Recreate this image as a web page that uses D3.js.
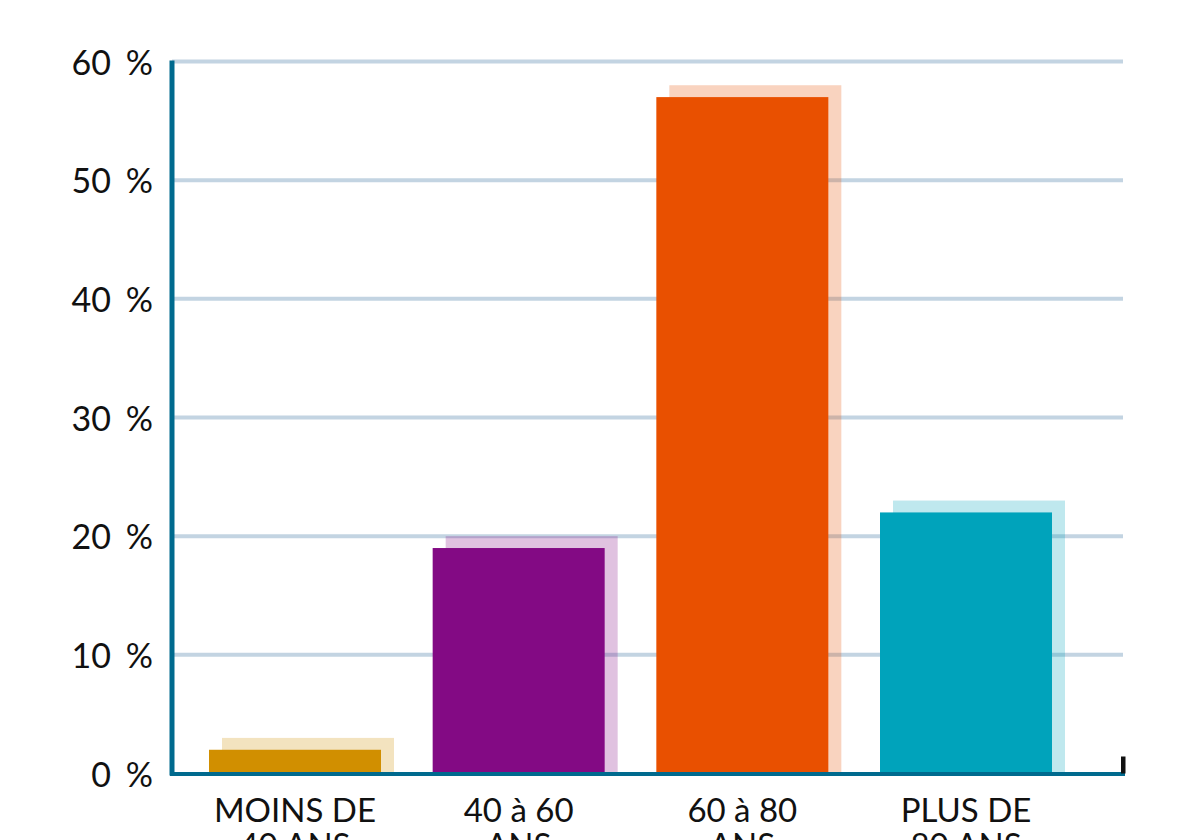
<!DOCTYPE html>
<html><head><meta charset="utf-8">
<script src="https://cdn.jsdelivr.net/npm/d3@7"></script>
<style>body{margin:0;background:#fff}svg{display:block}</style>
</head><body>
<svg id="c" width="1191" height="840"></svg>
<script>
const categories = [["MOINS DE","40 ANS"],["40 à 60","ANS"],["60 à 80","ANS"],["PLUS DE","80 ANS"]];
const frontValues = [2, 19, 57, 22];
const backValues = [3, 20, 58, 23];
const colors = ["#D18F00","#830A84","#E95000","#00A3BB"];
const yTicks = [0,10,20,30,40,50,60];
const yTickLabels = ["0 %","10 %","20 %","30 %","40 %","50 %","60 %"];

const svg = d3.select("#c");
const font = "Lato, 'Noto Sans', sans-serif";
const y = d3.scaleLinear().domain([0,60]).range([773.5,61.5]);
const x = d3.scaleBand().domain(d3.range(categories.length)).range([172,1089]).paddingInner(0.231).paddingOuter(0.1654);
const xLeft = 172, xRight = 1123, shift = 13;

// gridlines
svg.append("g").selectAll("line").data(yTicks.filter(d=>d>0)).join("line")
  .attr("x1",xLeft).attr("x2",xRight).attr("y1",d=>y(d)).attr("y2",d=>y(d))
  .attr("stroke","#C3D4E2").attr("stroke-width",4);

// back (shadow) bars
svg.append("g").selectAll("rect").data(backValues).join("rect")
  .attr("x",(d,i)=>x(i)+shift).attr("width",x.bandwidth())
  .attr("y",d=>y(d)).attr("height",d=>y(0)-y(d))
  .attr("fill",(d,i)=>colors[i]).attr("fill-opacity",0.25);

// front bars
svg.append("g").selectAll("rect").data(frontValues).join("rect")
  .attr("x",(d,i)=>x(i)).attr("width",x.bandwidth())
  .attr("y",d=>y(d)).attr("height",d=>y(0)-y(d))
  .attr("fill",(d,i)=>colors[i]);

// axes
svg.append("line").attr("x1",xLeft).attr("x2",xLeft).attr("y1",y(60)-1).attr("y2",y(0)+2)
  .attr("stroke","#006A8E").attr("stroke-width",5);
svg.append("line").attr("x1",xLeft-2).attr("x2",xRight+2).attr("y1",y(0)+0.5).attr("y2",y(0)+0.5)
  .attr("stroke","#006A8E").attr("stroke-width",4);
svg.append("rect").attr("x",xRight-2).attr("y",y(0)-17).attr("width",4.5).attr("height",17).attr("fill","#111");

// y labels
svg.append("g").selectAll("text").data(yTicks).join("text")
  .attr("x",153).attr("y",d=>y(d)+13)
  .attr("text-anchor","end").attr("font-family",font).attr("font-weight",400).attr("font-size",34).attr("fill","#111")
  .attr("word-spacing","6px")
  .text((d,i)=>yTickLabels[i]);

// x labels
const xl = svg.append("g").selectAll("text").data(categories).join("text")
  .attr("x",(d,i)=>x(i)+x.bandwidth()/2).attr("y",822)
  .attr("text-anchor","middle").attr("font-family",font).attr("font-weight",400).attr("font-size",33).attr("fill","#111");
xl.selectAll("tspan").data(d=>d).join("tspan")
  .attr("x",function(){return this.parentNode.getAttribute("x");})
  .attr("dy",(d,i)=>i===0?0:35).text(d=>d);
</script>
</body></html>
